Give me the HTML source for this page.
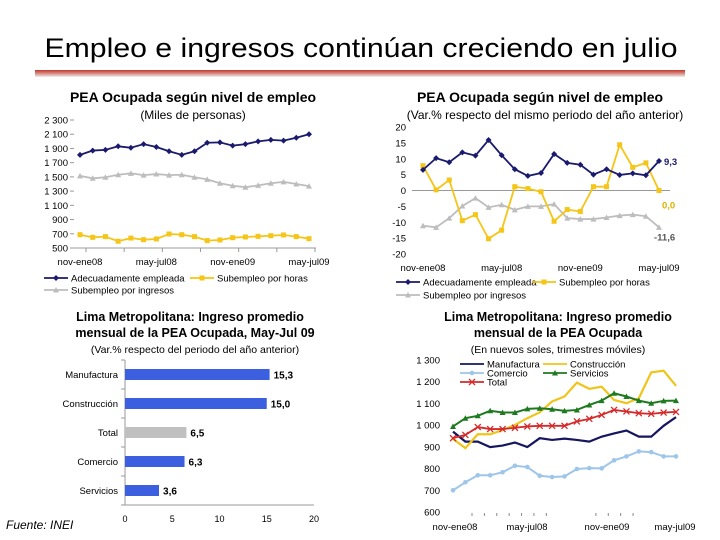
<!DOCTYPE html>
<html><head><meta charset="utf-8">
<style>
html,body{margin:0;padding:0;background:#fff;}
svg{display:block;font-family:"Liberation Sans",Arial,sans-serif;}
</style></head>
<body>
<svg id="s" width="720" height="540" viewBox="0 0 720 540" xmlns="http://www.w3.org/2000/svg">
<defs>
<linearGradient id="rule" x1="0" y1="0" x2="0" y2="1">
<stop offset="0" stop-color="#c0392b"/><stop offset="0.5" stop-color="#d98a86"/><stop offset="1" stop-color="#eeeeee"/>
</linearGradient>
</defs>
<text x="361" y="57" text-anchor="middle" font-size="27" textLength="633" lengthAdjust="spacingAndGlyphs" fill="#000">Empleo e ingresos continúan creciendo en julio</text>
<rect x="35" y="70" width="650" height="7" fill="url(#rule)"/>

<text x="193" y="102" text-anchor="middle" font-size="14" font-weight="bold">PEA Ocupada según nivel de empleo</text>
<text x="193" y="119" text-anchor="middle" font-size="12">(Miles de personas)</text>
<text x="540" y="102" text-anchor="middle" font-size="14" font-weight="bold">PEA Ocupada según nivel de empleo</text>
<text x="545" y="119" text-anchor="middle" font-size="12">(Var.% respecto del mismo periodo del año anterior)</text>
<text x="190" y="321" text-anchor="middle" font-size="12.5" font-weight="bold">Lima Metropolitana: Ingreso promedio</text>
<text x="195" y="337" text-anchor="middle" font-size="12.5" font-weight="bold">mensual de la PEA Ocupada, May-Jul 09</text>
<text x="195" y="353" text-anchor="middle" font-size="10.5">(Var.% respecto del periodo del año anterior)</text>
<text x="558" y="321" text-anchor="middle" font-size="12.5" font-weight="bold">Lima Metropolitana: Ingreso promedio</text>
<text x="558" y="337" text-anchor="middle" font-size="12.5" font-weight="bold">mensual de la PEA Ocupada</text>
<text x="558" y="353" text-anchor="middle" font-size="10.5">(En nuevos soles, trimestres móviles)</text>
<text x="6" y="529" font-size="12" font-style="italic">Fuente: INEI</text>
<g id="g"></g>
</svg>
<script>
const xCats = ["nov-ene08","may-jul08","nov-ene09","may-jul09"];
const c1Adec = [1810,1870,1880,1930,1910,1960,1920,1860,1810,1860,1980,1985,1940,1960,2000,2020,2010,2050,2100];
const c1Horas = [687,650,660,595,640,617,627,697,687,660,604,613,645,655,664,673,683,660,631];
const c1Ingr = [1515,1480,1495,1530,1550,1525,1540,1525,1530,1495,1465,1410,1375,1355,1380,1410,1430,1400,1370];
const c1Ticks = [500,700,900,1100,1300,1500,1700,1900,2100,2300];
const c2Adec = [6.5,10.2,8.9,12.0,11.0,15.9,11.1,6.7,4.6,5.5,11.5,8.7,8.1,5.0,6.7,4.9,5.4,4.8,9.3];
const c2Horas = [7.8,0.2,3.3,-9.5,-7.6,-15.2,-12.5,1.2,0.6,-0.4,-9.7,-6.0,-6.6,1.2,1.2,14.4,7.3,8.7,0.0];
const c2Ingr = [-11.1,-11.6,-8.7,-4.9,-2.4,-5.3,-4.5,-6.1,-5.0,-5.0,-4.3,-8.7,-9.0,-9.0,-8.5,-7.9,-7.6,-8.1,-11.6];
const c2Ticks = [-20,-15,-10,-5,0,5,10,15,20];
const c3Cats = ["Manufactura","Construcción","Total","Comercio","Servicios"];
const c3Vals = [15.3,15.0,6.5,6.3,3.6];
const c3Labels = ["15,3","15,0","6,5","6,3","3,6"];
const c3Ticks = [0,5,10,15,20];
const c4Manu = [970,924,924,899,906,920,899,940,932,938,932,924,947,962,975,947,947,997,1037];
const c4Cons = [937,894,958,958,977,1001,1032,1059,1109,1132,1196,1167,1177,1116,1101,1124,1243,1251,1181];
const c4Come = [700,737,769,769,783,813,807,767,761,764,798,802,801,838,856,879,876,856,856];
const c4Serv = [994,1032,1043,1066,1058,1058,1075,1078,1073,1066,1070,1093,1113,1147,1132,1113,1101,1112,1113];
const c4Tot = [940,955,991,982,982,988,994,997,997,997,1017,1029,1047,1070,1063,1055,1052,1058,1061];
const c4Ticks = [600,700,800,900,1000,1100,1200,1300];

const NS="http://www.w3.org/2000/svg", G=document.getElementById('g');
function mk(t,a,p){const e=document.createElementNS(NS,t);for(const k in a)e.setAttribute(k,a[k]);(p||G).appendChild(e);return e;}
function txt(x,y,s,a){const e=mk('text',Object.assign({x:x,y:y,'font-size':9.5,fill:'#000'},a||{}));e.textContent=s;return e;}
function lin(d0,d1,r0,r1){return v=>r0+(v-d0)/(d1-d0)*(r1-r0);}
function marker(type,x,y,col,g){
  if(type==='d')return mk('path',{d:`M${x} ${y-3}L${x+3} ${y}L${x} ${y+3}L${x-3} ${y}Z`,fill:col},g);
  if(type==='s')return mk('rect',{x:x-2.5,y:y-2.5,width:5,height:5,fill:col},g);
  if(type==='t')return mk('path',{d:`M${x} ${y-3}L${x+3} ${y+2.5}L${x-3} ${y+2.5}Z`,fill:col},g);
  if(type==='c')return mk('circle',{cx:x,cy:y,r:2.3,fill:col},g);
  if(type==='x')return mk('path',{d:`M${x-3} ${y-3}L${x+3} ${y+3}M${x-3} ${y+3}L${x+3} ${y-3}`,stroke:col,'stroke-width':1.3},g);
}
function series(vals,xs,ys,col,mt,name,w){
  const g=mk('g',{});
  
  
  mk('polyline',{points:vals.map((v,i)=>xs(i)+','+ys(v)).join(' '),fill:'none',stroke:col,'stroke-width':w||1.8},g);
  if(mt)vals.forEach((v,i)=>{const m=marker(mt,xs(i),ys(v),col,g);});
}
function legendItem(x,y,col,mt,label,name){
  const g=mk('g',{});
  
  
  mk('line',{x1:x,y1:y,x2:x+24,y2:y,stroke:col,'stroke-width':1.8},g);
  if(mt)marker(mt,x+12,y,col,g);
  const t=txt(x+27,y+3.5,label,{'font-size':9.5},);g.appendChild(t);
}
const NAVY='#1a1a6e', YEL='#f5c518', GRAY='#bdbdbd';

// Chart 1
(function(){
  const ys=lin(500,2300,248,120), xs=i=>80+i*(309-80)/18;
  mk('line',{x1:74,y1:248,x2:316,y2:248,stroke:'#999'});
  c1Ticks.forEach(t=>{mk('line',{x1:70,y1:ys(t),x2:74,y2:ys(t),stroke:'#999'});
    const e=txt(68,ys(t)+3.5,t>=1000?String(t).replace(/(\d)(\d{3})$/,'$1 $2'):String(t),{'text-anchor':'end'});
    });
  xCats.forEach((c,i)=>{const e=txt(xs(i*6),265,c,{'text-anchor':'middle'});
    });
  for(let i=0;i<=18;i+=3)mk('line',{x1:xs(i)+6,y1:248,x2:xs(i)+6,y2:252,stroke:'#999'});
  series(c1Ingr,xs,ys,GRAY,'t','chart1-series-subempleo-ingresos');
  series(c1Horas,xs,ys,YEL,'s','chart1-series-subempleo-horas');
  series(c1Adec,xs,ys,NAVY,'d','chart1-series-adecuadamente');
  legendItem(44,278,NAVY,'d','Adecuadamente empleada','chart1-legend-adecuadamente');
  legendItem(190,278,YEL,'s','Subempleo por horas','chart1-legend-horas');
  legendItem(44,290,GRAY,'t','Subempleo por ingresos','chart1-legend-ingresos');
})();

// Chart 2
(function(){
  const ys=lin(-20,20,254,127), xs=i=>423+i*(659-423)/18;
  mk('line',{x1:412,y1:ys(0),x2:670,y2:ys(0),stroke:'#999'});
  c2Ticks.forEach(t=>{const e=txt(406,ys(t)+3.5,String(t),{'text-anchor':'end'});
    });
  xCats.forEach((c,i)=>{const e=txt(xs(i*6),271,c,{'text-anchor':'middle'});
    });
  series(c2Ingr,xs,ys,GRAY,'t','chart2-series-subempleo-ingresos');
  series(c2Horas,xs,ys,YEL,'s','chart2-series-subempleo-horas');
  series(c2Adec,xs,ys,NAVY,'d','chart2-series-adecuadamente');
  const n=c2Adec.length-1;
  const a=txt(664,ys(c2Adec[n])+4,c2Adec[n].toFixed(1).replace('.',','),{fill:NAVY,'font-weight':'bold'});
  const b=txt(662,ys(c2Horas[n])+18,c2Horas[n].toFixed(1).replace('.',','),{fill:'#e0b000','font-weight':'bold'});
  const c=txt(654,ys(c2Ingr[n])+13,c2Ingr[n].toFixed(1).replace('.',','),{fill:'#555','font-weight':'bold'});
  legendItem(396,282,NAVY,'d','Adecuadamente empleada','chart2-legend-adecuadamente');
  legendItem(532,282,YEL,'s','Subempleo por horas','chart2-legend-horas');
  legendItem(396,295,GRAY,'t','Subempleo por ingresos','chart2-legend-ingresos');
})();

// Chart 3
(function(){
  const xs=lin(0,20,125,314), top=360, step=29;
  mk('line',{x1:125,y1:top,x2:125,y2:top+5*step,stroke:'#999'});
  mk('line',{x1:125,y1:top+5*step,x2:314,y2:top+5*step,stroke:'#999'});
  for(let i=0;i<=5;i++)mk('line',{x1:121,y1:top+i*step,x2:125,y2:top+i*step,stroke:'#999'});
  c3Ticks.forEach(t=>{const e=txt(xs(t),522,String(t),{'text-anchor':'middle','font-size':9});
    });
  c3Cats.forEach((c,i)=>{const cy=top+step*i+step/2;
    const r=mk('rect',{x:125,y:cy-5.5,width:xs(c3Vals[i])-125,height:11,fill:c==='Total'?'#c0c0c0':'#3c5fe0'});
    
    const l=txt(118,cy+3.5,c,{'text-anchor':'end','font-size':9.5});
    const v=txt(xs(c3Vals[i])+4,cy+4,c3Labels[i],{'font-size':10,'font-weight':'bold'});});
})();

// Chart 4
(function(){
  const ys=lin(600,1300,512,360), xs=i=>453+i*(676-453)/18;
  c4Ticks.forEach(t=>{const e=txt(440,ys(t)+3.5,t>=1000?String(t).replace(/(\d)(\d{3})$/,'$1 $2'):String(t),{'text-anchor':'end'});
    });
  for(let i=0;i<=18;i++)if(!(i>=7&&i<=9)&&!(i>=14))mk('line',{x1:xs(i)+19,y1:513,x2:xs(i)+19,y2:516,stroke:'#888'});
  xCats.forEach((c,i)=>{const e=txt([455,527,607,675][i],530,c,{'text-anchor':'middle'});
    });
  series(c4Come,xs,ys,'#9ec5ea','c','chart4-series-comercio',2);
  series(c4Manu,xs,ys,'#151560',null,'chart4-series-manufactura',2.2);
  series(c4Cons,xs,ys,'#f0c419',null,'chart4-series-construccion',2.2);
  series(c4Serv,xs,ys,'#1e7a1e','t','chart4-series-servicios',2);
  series(c4Tot,xs,ys,'#d42a2a','x','chart4-series-total',1.8);
  legendItem(460,364,'#151560',null,'Manufactura','chart4-legend-manufactura');
  legendItem(543,364,'#f0c419',null,'Construcción','chart4-legend-construccion');
  legendItem(460,373,'#9ec5ea','c','Comercio','chart4-legend-comercio');
  legendItem(543,373,'#1e7a1e','t','Servicios','chart4-legend-servicios');
  legendItem(460,382,'#d42a2a','x','Total','chart4-legend-total');
})();
</script>
</body></html>
